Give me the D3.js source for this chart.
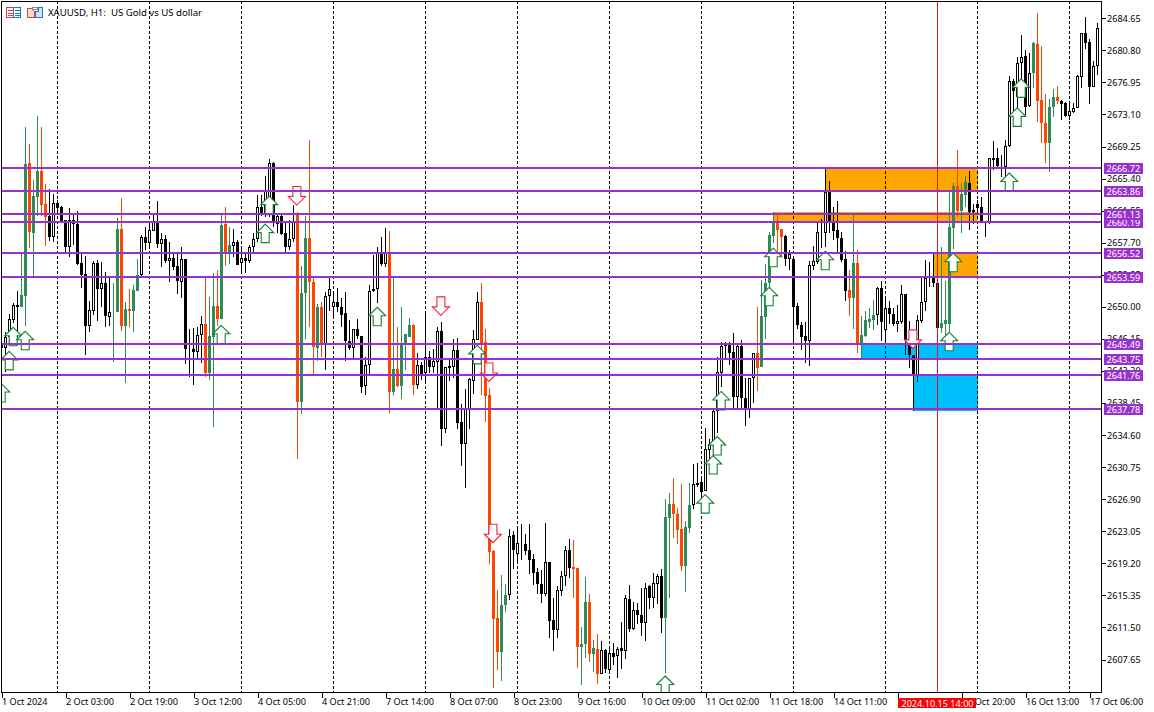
<!DOCTYPE html>
<html><head><meta charset="utf-8">
<script src="https://cdn.jsdelivr.net/npm/d3@7/dist/d3.min.js"></script>
<style>html,body{margin:0;padding:0;background:#fff;overflow:hidden}svg{display:block}
text{font-family:"Noto Sans",sans-serif;font-size:9.1px;white-space:pre}
text.title{font-size:9.6px}</style></head><body><svg id="c" width="1154" height="712"></svg>
<script>
// u hollow up bar, d black down bar, g green up bar, r orange down bar
const barKinds=("uuuudggrgg"+"rrduddduud"+"dduududugg"+"rgrgguduud"+"ududdudddu"+"urggrgrgud"+"uduuuduudu"+"dduurggrrg"+"ruuuddddud"+"duuuudurgr"+
"gggrududuu"+"dududduuuu"+"rrrrrggudu"+"dddddduddu"+"uudrrggrgr"+"ududududud"+"duduudggrr"+"rggudduuuu"+"uuddudduur"+"ggggrrdudd"+
"dduuududdd"+"ddrgrggggu"+"dudduudddu"+"uudddggggr"+"ggdddddudd"+"duuduudugr"+"rrggrdduuu"+"udduu").split("");
const bodyTops=[
2645.61,2646.34,2648.50,2650.19,2650.19,2651.39,2667.15,2667.27,2663.30,2666.31,
2666.31,2662.34,2660.89,2662.46,2662.46,2661.98,2660.41,2660.41,2660.41,2659.93,
2655.24,2653.92,2649.58,2655.24,2655.24,2652.83,2652.83,2649.34,2649.34,2659.33,
2659.33,2649.70,2649.70,2651.99,2653.79,2658.37,2658.37,2659.21,2660.17,2660.05,
2658.13,2658.13,2655.84,2655.84,2654.88,2655.72,2655.72,2645.01,2644.89,2646.58,
2647.90,2647.90,2646.46,2650.07,2650.07,2659.81,2659.93,2657.40,2657.76,2657.76,
2655.84,2655.84,2657.16,2658.13,2661.98,2661.98,2664.02,2667.27,2667.27,2660.89,
2660.89,2658.85,2658.13,2660.29,2661.13,2651.63,2658.25,2658.25,2652.95,2649.95,
2649.95,2651.27,2652.11,2650.55,2650.55,2649.95,2649.22,2645.85,2647.30,2647.30,
2646.46,2642.97,2651.87,2652.11,2656.44,2656.44,2656.56,2656.56,2642.49,2642.49,
2645.37,2646.70,2647.78,2647.78,2642.97,2642.97,2643.93,2643.93,2643.45,2647.06,
2647.06,2642.73,2642.85,2644.77,2644.77,2636.23,2637.79,2641.28,2646.10,2650.55,
2650.55,2645.73,2639.36,2620.71,2612.65,2614.21,2615.42,2622.51,2622.63,2621.67,
2621.67,2621.55,2620.83,2619.75,2618.18,2616.74,2619.39,2619.39,2612.41,2616.02,
2617.70,2620.83,2620.83,2618.78,2618.66,2609.52,2614.57,2614.57,2609.04,2608.92,
2608.80,2608.80,2608.44,2608.44,2608.92,2609.04,2615.05,2614.93,2613.61,2613.61,
2613.01,2616.26,2616.50,2616.86,2617.70,2617.70,2624.80,2626.36,2626.36,2625.16,
2623.36,2623.60,2626.24,2628.77,2628.89,2629.01,2632.98,2633.58,2637.55,2642.12,
2645.25,2645.61,2645.37,2644.53,2645.25,2645.25,2639.00,2641.40,2644.41,2644.41,
2648.86,2652.83,2658.61,2660.17,2660.05,2659.33,2658.49,2656.32,2655.72,2650.07,
2647.78,2646.46,2655.00,2655.48,2658.97,2658.97,2663.78,2663.78,2660.17,2659.21,
2658.25,2655.72,2651.99,2655.24,2655.24,2646.58,2648.38,2648.50,2648.98,2652.23,
2652.23,2649.82,2649.82,2649.10,2648.26,2651.51,2651.51,2646.10,2644.17,2648.38,
2650.55,2653.43,2653.43,2653.43,2652.83,2648.02,2648.38,2659.57,2664.50,2664.50,
2663.54,2664.98,2664.86,2661.61,2662.34,2661.98,2660.17,2667.87,2667.87,2667.87,
2666.91,2669.32,2677.13,2677.13,2679.30,2680.02,2680.14,2678.10,2681.71,2681.59,
2674.85,2672.08,2674.01,2675.21,2675.21,2674.73,2674.49,2673.53,2673.89,2677.74,
2682.91,2682.91,2681.83,2678.94,2683.51];
const bodyBottoms=[
2645.01,2645.01,2646.34,2648.38,2649.95,2649.95,2651.27,2658.97,2658.85,2663.18,
2662.22,2660.77,2658.37,2658.37,2661.86,2660.17,2657.16,2657.16,2659.93,2655.12,
2653.79,2647.66,2647.66,2649.46,2652.11,2652.11,2648.86,2648.74,2649.22,2649.34,
2647.66,2647.66,2649.46,2649.46,2651.87,2653.79,2657.64,2657.64,2659.09,2657.52,
2657.52,2655.48,2655.48,2654.76,2653.07,2652.95,2644.89,2644.89,2644.53,2644.53,
2646.58,2642.00,2642.00,2646.34,2648.50,2648.50,2656.56,2656.56,2657.28,2655.00,
2655.24,2655.48,2655.48,2657.16,2658.13,2661.25,2661.25,2661.01,2660.05,2659.93,
2658.73,2657.16,2657.16,2658.13,2638.52,2638.52,2651.63,2652.95,2645.13,2645.01,
2645.37,2645.37,2651.27,2649.95,2649.95,2648.98,2645.85,2645.01,2645.01,2646.46,
2640.32,2640.44,2642.97,2651.87,2652.11,2655.12,2655.12,2639.72,2639.72,2640.44,
2640.44,2645.37,2646.34,2640.56,2640.56,2641.76,2642.00,2642.73,2642.73,2643.33,
2635.39,2635.39,2642.61,2642.73,2636.11,2633.58,2633.58,2637.79,2641.04,2645.97,
2645.61,2639.24,2620.59,2612.53,2608.56,2608.56,2614.21,2615.42,2620.83,2620.35,
2621.55,2620.71,2619.63,2618.06,2616.74,2615.54,2615.54,2612.29,2611.21,2611.21,
2615.90,2617.70,2618.66,2618.54,2609.16,2609.16,2609.52,2608.32,2608.32,2605.91,
2605.91,2606.51,2606.39,2607.96,2608.08,2608.68,2608.68,2611.33,2611.33,2613.01,
2612.05,2612.05,2615.05,2615.05,2616.74,2612.65,2612.65,2624.68,2625.16,2623.24,
2618.90,2618.90,2623.48,2626.24,2628.65,2627.81,2627.93,2632.86,2633.58,2637.55,
2642.00,2645.25,2644.41,2639.12,2639.12,2639.00,2637.79,2637.79,2641.40,2642.61,
2642.73,2648.74,2652.83,2658.49,2659.21,2658.37,2655.72,2655.72,2649.95,2647.78,
2646.34,2645.85,2645.85,2654.88,2655.36,2658.85,2658.85,2660.17,2659.09,2658.25,
2655.60,2651.87,2651.03,2651.03,2645.61,2645.61,2646.46,2648.14,2648.38,2648.98,
2648.14,2647.18,2649.10,2647.90,2647.90,2648.14,2645.97,2644.17,2641.76,2641.76,
2648.26,2650.55,2653.31,2652.83,2647.42,2647.42,2647.90,2647.90,2659.45,2661.49,
2661.49,2663.42,2661.37,2661.37,2661.86,2660.17,2660.05,2660.05,2667.63,2666.91,
2666.79,2666.79,2669.32,2675.93,2675.21,2679.30,2674.01,2674.13,2678.10,2674.73,
2672.08,2669.68,2669.68,2674.01,2674.73,2674.37,2672.92,2672.92,2673.41,2673.89,
2677.62,2681.71,2676.41,2676.41,2678.94];
const wickHighs=[
2645.97,2646.94,2649.10,2650.43,2651.87,2656.44,2671.60,2669.56,2665.22,2672.92,
2671.60,2664.74,2664.14,2663.54,2662.82,2662.10,2660.41,2661.86,2661.01,2661.49,
2656.32,2656.08,2650.67,2655.48,2655.60,2655.36,2654.16,2653.43,2652.83,2660.65,
2663.06,2650.55,2652.11,2652.59,2655.72,2658.61,2659.57,2660.17,2661.25,2662.70,
2658.85,2658.61,2657.76,2656.44,2656.44,2657.16,2655.72,2647.30,2647.42,2647.54,
2648.86,2653.43,2651.15,2654.04,2654.40,2661.01,2661.98,2659.57,2659.33,2658.01,
2657.04,2656.44,2657.40,2658.85,2663.42,2663.42,2665.71,2667.75,2667.39,2661.25,
2661.25,2660.05,2660.41,2662.22,2661.37,2654.88,2660.89,2670.04,2653.43,2650.31,
2650.55,2651.75,2653.43,2651.63,2652.23,2651.03,2651.75,2648.38,2647.30,2648.50,
2646.46,2643.93,2652.59,2656.20,2657.16,2658.37,2659.45,2659.09,2653.43,2647.54,
2649.95,2646.70,2648.62,2647.90,2644.41,2643.33,2649.22,2644.65,2644.89,2647.54,
2648.14,2642.73,2643.57,2646.10,2646.22,2638.28,2640.08,2641.40,2647.18,2651.75,
2652.83,2647.30,2640.20,2620.83,2616.02,2617.82,2616.74,2623.35,2623.11,2623.72,
2623.96,2622.75,2623.96,2620.35,2618.66,2618.42,2624.08,2619.39,2615.05,2616.50,
2618.30,2621.31,2622.15,2622.03,2618.66,2611.57,2617.58,2615.54,2610.00,2610.72,
2609.88,2608.92,2608.92,2609.64,2609.16,2612.17,2615.42,2616.62,2614.57,2614.45,
2616.26,2616.86,2616.62,2618.06,2617.94,2618.54,2626.97,2627.69,2629.49,2625.88,
2628.77,2624.32,2628.89,2631.18,2631.30,2629.61,2635.51,2634.18,2637.79,2643.93,
2645.73,2645.73,2645.73,2646.82,2645.61,2645.97,2641.40,2641.40,2644.41,2649.95,
2653.19,2655.12,2658.97,2661.25,2661.01,2659.33,2658.61,2656.80,2655.72,2650.43,
2648.14,2648.14,2655.48,2657.28,2660.05,2660.53,2666.55,2665.10,2661.98,2662.70,
2658.97,2656.68,2654.40,2661.01,2656.80,2648.86,2649.46,2649.82,2650.79,2652.35,
2653.07,2650.91,2650.67,2649.82,2650.19,2652.59,2651.51,2648.26,2644.17,2648.98,
2653.55,2655.60,2655.36,2656.44,2653.07,2657.16,2653.07,2663.78,2664.86,2668.83,
2664.86,2665.71,2666.31,2662.34,2662.82,2663.18,2660.29,2667.87,2669.92,2669.07,
2668.23,2670.04,2677.74,2677.38,2680.02,2682.67,2680.86,2680.50,2681.83,2685.32,
2681.35,2675.57,2674.97,2676.17,2676.53,2674.85,2674.61,2674.49,2674.49,2677.86,
2682.91,2684.83,2682.19,2679.54,2684.11];
const wickLows=[
2644.77,2642.12,2645.37,2648.02,2646.34,2649.95,2647.66,2657.04,2653.67,2660.89,
2660.89,2657.28,2657.89,2657.76,2661.25,2660.05,2656.56,2655.96,2657.40,2655.00,
2652.23,2644.17,2646.94,2648.98,2648.26,2649.95,2647.54,2647.66,2643.33,2649.34,
2647.06,2640.80,2647.54,2646.94,2651.87,2653.43,2656.80,2656.92,2659.09,2657.04,
2654.76,2655.24,2652.95,2654.40,2651.51,2651.03,2643.09,2641.52,2640.56,2643.81,
2643.21,2641.52,2641.16,2635.63,2647.66,2648.50,2654.88,2655.12,2655.96,2655.00,
2653.92,2654.04,2655.24,2656.56,2657.76,2660.89,2660.77,2660.77,2659.57,2658.85,
2658.61,2656.44,2656.80,2657.76,2631.78,2637.19,2646.10,2647.54,2641.76,2643.45,
2643.93,2642.36,2649.46,2648.86,2649.34,2647.54,2643.45,2644.77,2643.81,2646.10,
2639.60,2639.36,2641.76,2651.75,2650.43,2654.88,2654.76,2637.31,2639.36,2640.32,
2638.88,2642.36,2646.34,2639.36,2640.08,2641.16,2640.80,2642.00,2642.00,2637.79,
2633.34,2634.91,2641.04,2641.40,2635.39,2630.94,2628.29,2635.39,2639.48,2645.97,
2639.36,2636.23,2619.15,2604.23,2606.39,2605.07,2613.37,2614.81,2618.55,2619.51,
2619.63,2620.23,2617.94,2616.62,2615.54,2614.45,2615.30,2610.24,2608.68,2610.24,
2615.30,2616.50,2617.46,2615.05,2606.63,2604.59,2607.84,2607.36,2606.15,2604.71,
2605.91,2606.03,2606.27,2607.00,2605.43,2606.51,2607.72,2610.97,2611.21,2611.93,
2610.48,2609.88,2613.73,2613.85,2614.33,2610.85,2606.03,2615.05,2622.27,2621.55,
2618.30,2615.78,2622.87,2625.76,2628.41,2625.16,2627.93,2631.78,2632.14,2634.91,
2640.32,2643.81,2642.97,2637.91,2637.91,2637.79,2635.75,2636.71,2638.40,2639.84,
2642.73,2646.10,2651.15,2657.64,2655.96,2655.96,2654.88,2654.40,2645.61,2647.30,
2644.77,2643.21,2642.85,2654.40,2655.12,2657.04,2657.16,2658.85,2658.01,2656.56,
2655.36,2650.67,2648.86,2647.30,2644.41,2645.49,2646.34,2647.42,2647.18,2647.78,
2645.85,2645.85,2647.90,2647.66,2646.94,2647.90,2644.17,2642.61,2640.80,2640.92,
2648.02,2649.46,2652.35,2652.35,2647.42,2646.82,2645.61,2646.58,2656.92,2660.77,
2658.85,2661.98,2659.21,2659.93,2661.25,2660.05,2658.37,2659.93,2666.43,2666.55,
2665.59,2665.59,2669.19,2673.53,2673.65,2675.21,2673.04,2674.01,2676.29,2672.20,
2669.68,2667.27,2666.19,2672.80,2674.37,2672.44,2672.80,2672.44,2673.29,2673.89,
2676.29,2680.98,2674.37,2676.41,2677.86];
const levelPrices=[2666.72,2663.86,2661.13,2660.19,2656.52,2653.59,2645.49,2643.75,2641.76,2637.78];
const priceTicks=[2684.65,2680.80,2676.95,2673.10,2669.25,2665.40,2661.55,2657.70,2653.85,2650.00,2646.15,2642.30,2638.45,2634.60,2630.75,2626.90,2623.05,2619.20,2615.35,2611.50,2607.65];
const timeTickLabels=["1 Oct 2024","2 Oct 03:00","2 Oct 19:00","3 Oct 12:00","4 Oct 05:00","4 Oct 21:00","7 Oct 14:00","8 Oct 07:00","8 Oct 23:00","9 Oct 16:00","10 Oct 09:00","11 Oct 02:00","11 Oct 18:00","14 Oct 11:00","15 Oct 04:00","15 Oct 20:00","16 Oct 13:00","17 Oct 06:00"];
const separatorBars=[14,37,60,83,106,129,152,175,198,221,244,267];
const upArrowBars=[0,2,3,6,55,66,67,94,119,166,176,178,179,180,192,193,206,237,238,252,254,255];
const upArrowPrices=[2640.80,2644.65,2647.54,2647.06,2647.78,2659.93,2663.30,2649.95,2645.37,2605.67,2627.45,2632.14,2634.43,2639.84,2652.35,2657.04,2656.68,2646.94,2656.44,2666.07,2673.89,2677.38];
const downArrowBars=[74,110,122,123,228];
const downArrowPrices=[2662.22,2648.98,2641.04,2621.67,2645.01];
const zoneStartBars=[206,193,233,215,228];
const zoneEndBar=244;
const zoneTops=[2666.72,2661.37,2656.52,2645.49,2641.76];
const zoneBottoms=[2663.86,2660.19,2653.59,2643.75,2637.54];
const zoneColors=["#FFA500","#FFA500","#FFA500","#00BFFF","#00BFFF"];
const crosshairBar=234, crosshairLabel="2024.10.15 14:00";
const chartTitle="XAUUSD, H1:  US Gold vs US dollar";

const kindColor={u:"#000",d:"#000",g:"#2E8B57",r:"#FF4500"};
const svg=d3.select("#c");
const plotLeft=1,plotRight=1101,plotBottom=692,plotTop=1;
const x=d3.scaleLinear().domain([0,274]).range([1.5,1097.5]);
const y=d3.scaleLinear().domain([2666.72,2637.78]).range([167.6,408.6]);
const rx=v=>Math.floor(x(v))+.5, ry=v=>Math.round(y(v));
const defs=svg.append("defs");
defs.append("clipPath").attr("id","plot").append("rect").attr("x",plotLeft).attr("y",plotTop).attr("width",plotRight-plotLeft).attr("height",plotBottom-plotTop);
const plot=svg.append("g").attr("clip-path","url(#plot)");

// zones
const zones=plot.append("g").attr("shape-rendering","crispEdges");
zoneStartBars.forEach((b,i)=>{
  zones.append("rect").attr("x",rx(b)).attr("width",rx(zoneEndBar)-rx(b)).attr("y",ry(zoneTops[i])).attr("height",ry(zoneBottoms[i])-ry(zoneTops[i])).attr("fill",zoneColors[i]);
  zones.append("line").attr("x1",rx(b)).attr("x2",rx(b)).attr("y1",ry(zoneTops[i])).attr("y2",ry(zoneBottoms[i])).attr("stroke",kindColor[barKinds[b]]);
});
// separators
plot.append("g").selectAll("line").data(separatorBars).join("line")
  .attr("x1",rx).attr("x2",rx).attr("y1",plotTop).attr("y2",plotBottom)
  .attr("stroke","#000").attr("stroke-dasharray","3,2").attr("shape-rendering","crispEdges");
// candles
const candles=plot.append("g").attr("shape-rendering","crispEdges");
barKinds.forEach((k,i)=>{
  const c=kindColor[k],cx=rx(i);
  candles.append("line").attr("x1",cx).attr("x2",cx).attr("y1",ry(wickHighs[i])).attr("y2",ry(wickLows[i])).attr("stroke",c);
  const t=ry(bodyTops[i]),b=Math.max(ry(bodyBottoms[i]),t+1);
  candles.append("rect").attr("x",cx-1).attr("width",2).attr("y",t+.5).attr("height",Math.max(0,b-t-1))
    .attr("fill",k==="u"?"#fff":c).attr("stroke",c);
});
// crosshair
plot.append("line").attr("x1",rx(crosshairBar)).attr("x2",rx(crosshairBar)).attr("y1",plotTop).attr("y2",plotBottom)
  .attr("stroke","#E8141C").attr("shape-rendering","crispEdges");
// arrows
const upPath="M0,0L8.5,8.5L4,8.5L4,18.5L-4,18.5L-4,8.5L-8.5,8.5Z";
const downPath="M0,0L-8.5,-8.5L-4,-8.5L-4,-18.5L4,-18.5L4,-8.5L8.5,-8.5Z";
const arrows=plot.append("g");
upArrowBars.forEach((b,i)=>{
  arrows.append("path").attr("d",upPath).attr("transform",`translate(${x(b)-.3},${y(upArrowPrices[i])})`)
    .attr("fill","#fff").attr("stroke","#128232").attr("stroke-width",1.1);
});
downArrowBars.forEach((b,i)=>{
  arrows.append("path").attr("d",downPath).attr("transform",`translate(${x(b)-.6},${y(downArrowPrices[i])})`)
    .attr("fill","#fff").attr("stroke","#F5203C").attr("stroke-width",1.1);
});
// level lines
plot.append("g").selectAll("line").data(levelPrices).join("line")
  .attr("x1",plotLeft).attr("x2",plotRight).attr("y1",ry).attr("y2",ry)
  .attr("stroke","#9932CC").attr("stroke-width",2).attr("shape-rendering","crispEdges");

// axes
const yAxis=d3.axisRight(y).tickValues(priceTicks).tickFormat(d3.format(".2f")).tickSize(4).tickPadding(1.5);
const gy=svg.append("g").attr("transform",`translate(${plotRight+.5},0)`).call(yAxis);
gy.select(".domain").remove();
gy.selectAll("line").attr("shape-rendering","crispEdges").attr("stroke","#000");
gy.selectAll("text").attr("fill","#000");
gy.attr("font-family",null).attr("font-size",null);
const timeBars=timeTickLabels.map((_,i)=>i*16);
const xAxis=d3.axisBottom(x).tickValues(timeBars).tickFormat((d,i)=>timeTickLabels[i]).tickSize(5).tickPadding(1);
const gx=svg.append("g").attr("transform",`translate(0,${plotBottom+.5})`).call(xAxis);
gx.select(".domain").remove();
gx.selectAll("line").attr("shape-rendering","crispEdges").attr("stroke","#000");
gx.selectAll("text").attr("text-anchor","start").attr("fill","#000").attr("dx",0);
gx.attr("font-family",null).attr("font-size",null);
// frame
svg.append("g").attr("fill","none").attr("stroke","#000").attr("shape-rendering","crispEdges")
  .append("rect").attr("x",plotLeft+.5).attr("y",plotTop+.5).attr("width",plotRight-plotLeft).attr("height",plotBottom-plotTop);
// level tags: upper tags are painted over the lower ones
const tags=svg.append("g");
levelPrices.slice().reverse().forEach(p=>{
  const yy=ry(p);
  tags.append("rect").attr("x",1104).attr("width",39).attr("y",yy-5).attr("height",11).attr("fill","#9932CC");
  tags.append("text").attr("x",1106.5).attr("y",yy+4).attr("fill","#fff").text(d3.format(".2f")(p));
});
// crosshair tag
const cxx=x(crosshairBar);
svg.append("rect").attr("x",cxx-39.5).attr("y",698).attr("width",78).attr("height",10).attr("fill","#FF0000");
svg.append("text").attr("x",cxx).attr("y",706.5).attr("text-anchor","middle").attr("fill","#fff").text(crosshairLabel);
// title + icons
svg.append("text").attr("class","title").attr("x",48).attr("y",16).attr("fill","#000").text(chartTitle);
const icon=svg.append("g").attr("fill","none").attr("shape-rendering","crispEdges");
icon.append("rect").attr("x",6.5).attr("y",7.5).attr("width",7).attr("height",10).attr("stroke","#E0403A");
icon.append("rect").attr("x",13.5).attr("y",7.5).attr("width",7).attr("height",10).attr("stroke","#1F78B4");
[10,13,15].forEach(v=>{
  icon.append("line").attr("x1",8).attr("x2",13).attr("y1",v+.5).attr("y2",v+.5).attr("stroke","#E0403A");
  icon.append("line").attr("x1",15).attr("x2",20).attr("y1",v+.5).attr("y2",v+.5).attr("stroke","#1F78B4");
});
icon.append("path").attr("d","M27.5,8.5H31.5L34.5,11.5V17.5H27.5Z").attr("stroke","#E0403A").attr("fill","#FBD9D0");
icon.append("path").attr("d","M35.5,11.5H38.5V7.5H42.5V17.5H35.5Z").attr("stroke","#1F78B4").attr("fill","#CFE4F5");
icon.append("rect").attr("x",32.5).attr("y",7.5).attr("width",5).attr("height",2).attr("stroke","#888");
</script>
</body></html>
